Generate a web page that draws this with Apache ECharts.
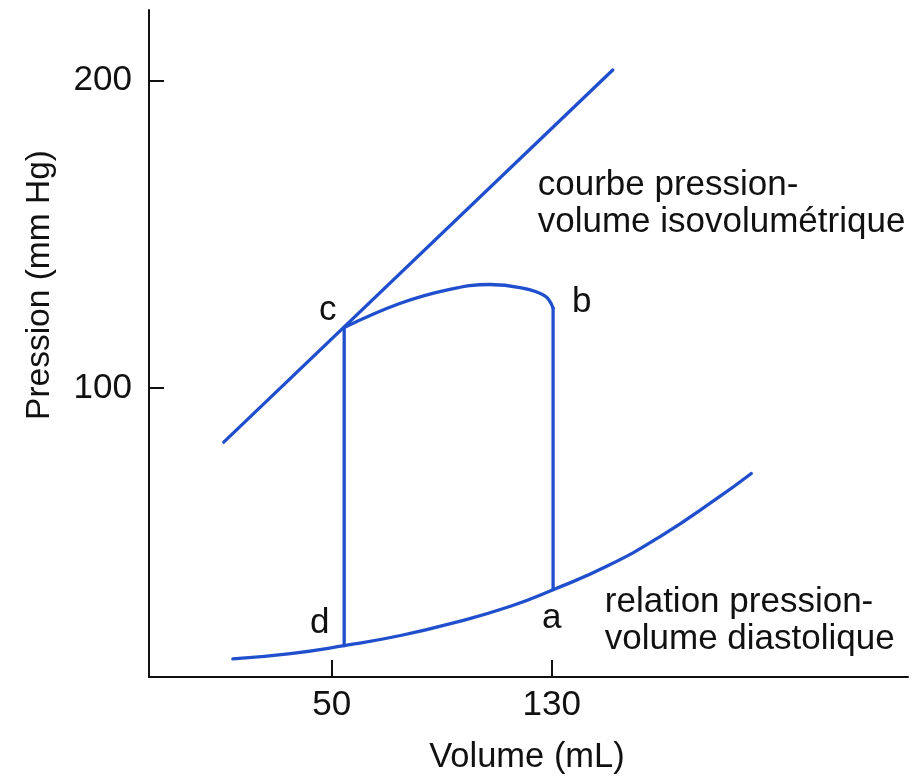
<!DOCTYPE html>
<html>
<head>
<meta charset="utf-8">
<script src="https://cdn.jsdelivr.net/npm/echarts@6/dist/echarts.min.js"></script>
<style>
html,body{margin:0;padding:0;background:#fff;}
#chart{width:914px;height:777px;}
</style>
</head>
<body>
<div id="chart"></div>
<script>
// ---- data ----
var xTicks = [50, 130];
var yTicks = [100, 200];
var isoLine = [[10.7, 82.4], [152.2, 203.5]];
var diastolic = [[14, 11.9], [35, 13.6], [54.5, 16.2], [75, 19.5], [95, 23.8], [115, 29], [130.5, 34.4], [150, 42], [170, 52], [190, 64], [202.6, 72.2]];
var loopLeft = [[54.5, 16.2], [54.5, 119.7]];
var loopTop = [[54.5, 119.7], [74.7, 127.5], [92.9, 132.1], [107.5, 133.7], [118.4, 132.7], [127.5, 130], [130.5, 126]];
var loopRight = [[130.5, 126], [130.5, 34.4]];
var pointLabels = [
  {name: 'c', value: [48.5, 125.4]},
  {name: 'b', value: [140.9, 128.0]},
  {name: 'd', value: [45.6, 23.6]},
  {name: 'a', value: [130, 25.2]}
];
var curveLabels = [
  {name: 'courbe pression-\nvolume isovolumétrique', value: [124.9, 160.0]},
  {name: 'relation pression-\nvolume diastolique', value: [149.3, 24.2]}
];

var FONT = 'Liberation Sans, Arial, Helvetica, sans-serif';
var BLUE = '#1f4fcc';
var INK = '#111';

var chart = echarts.init(document.getElementById('chart'));
function lineSeries(data, smooth) {
  return {
    type: 'line', data: data, smooth: smooth, showSymbol: false, symbol: 'none',
    lineStyle: {color: BLUE, width: 3.3, cap: 'round', join: 'round'},
    silent: true, animation: false, z: 3
  };
}
chart.setOption({
  animation: false,
  grid: {left: 149, right: 6, top: 10, bottom: 100, containLabel: false},
  xAxis: {
    type: 'value', min: -16.5, max: 259.6,
    splitLine: {show: false},
    axisLine: {show: true, onZero: false, lineStyle: {color: INK, width: 2}},
    axisTick: {show: true, inside: true, length: 17, customValues: xTicks, lineStyle: {color: INK, width: 2}},
    axisLabel: {customValues: xTicks, fontSize: 35, color: INK, fontFamily: FONT, margin: 11}
  },
  yAxis: {
    type: 'value', min: 6, max: 223,
    splitLine: {show: false},
    axisLine: {show: true, onZero: false, lineStyle: {color: INK, width: 2}},
    axisTick: {show: true, inside: true, length: 15, customValues: yTicks, lineStyle: {color: INK, width: 2}},
    axisLabel: {customValues: yTicks, fontSize: 35, color: INK, fontFamily: FONT, margin: 17}
  },
  graphic: [
    {type: 'text', x: 40, y: 285, rotation: Math.PI / 2,
     style: {text: 'Pression (mm Hg)', fontSize: 33.5, fontFamily: FONT, fill: INK, align: 'center', verticalAlign: 'middle'}},
    {type: 'text', x: 527, y: 757,
     style: {text: 'Volume (mL)', fontSize: 34.5, fontFamily: FONT, fill: INK, align: 'center', verticalAlign: 'middle'}}
  ],
  series: [
    lineSeries(isoLine, false),
    lineSeries(diastolic, true),
    lineSeries(loopLeft, false),
    lineSeries(loopTop, 0.4),
    lineSeries(loopRight, false),
    {
      type: 'scatter', data: pointLabels, symbolSize: 0, silent: true,
      itemStyle: {opacity: 1},
      label: {show: true, position: 'inside', formatter: '{b}', fontSize: 35, color: INK, opacity: 1, fontFamily: FONT}
    },
    {
      type: 'scatter', data: curveLabels, symbolSize: 0, silent: true,
      itemStyle: {opacity: 1},
      label: {show: true, position: 'right', distance: 0, formatter: '{b}', fontSize: 35, lineHeight: 37, color: INK, opacity: 1, fontFamily: FONT, align: 'left', verticalAlign: 'middle'}
    }
  ]
});
</script>
</body>
</html>
